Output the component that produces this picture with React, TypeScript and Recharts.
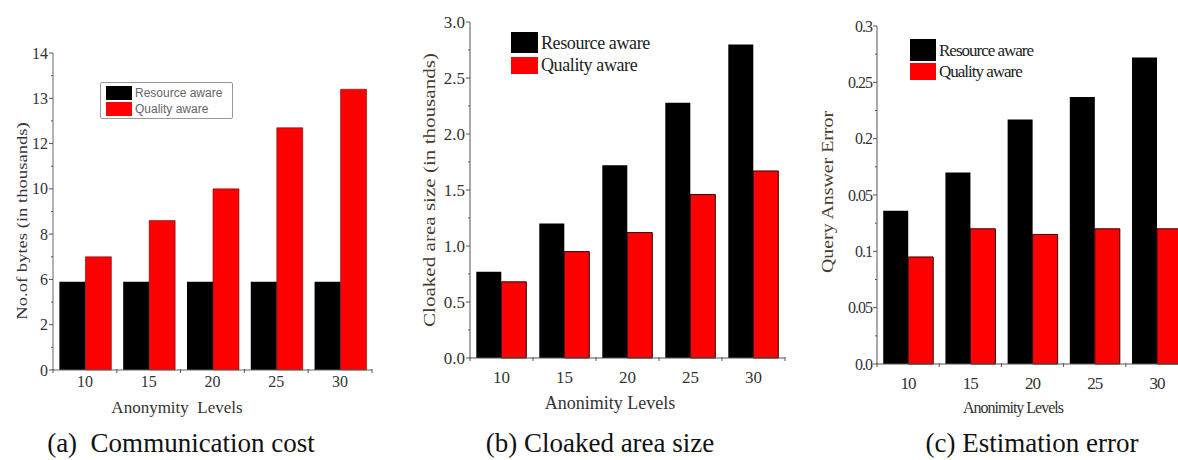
import { BarChart, Bar, XAxis, YAxis, Legend } from "recharts";

// anonymity levels on the x axis
const levels = ["10", "15", "20", "25", "30"];
const seriesOrder = ["resource", "quality"];

// (a) communication cost
const bytesResource = [3.9, 3.9, 3.9, 3.9, 3.9];
const bytesQuality = [5.0, 6.6, 8.0, 10.7, 12.4];
const bytesTicks = [0, 1, 2, 3, 4, 5, 6, 7, 8, 9, 10, 11, 12, 13, 14];
const bytesLabels: Record<number, string> = { 0: "0", 2: "2", 4: "6", 6: "8", 8: "10", 10: "12", 12: "13", 14: "14" };

// (b) cloaked area size
const areaResource = [0.77, 1.2, 1.72, 2.28, 2.8];
const areaQuality = [0.68, 0.95, 1.12, 1.46, 1.67];
const areaTicks = [0, 0.25, 0.5, 0.75, 1, 1.25, 1.5, 1.75, 2, 2.25, 2.5, 2.75, 3];
const areaLabels: Record<number, string> = { 0: "0.0", 0.5: "0.5", 1: "1.0", 1.5: "1.5", 2: "2.0", 2.5: "2.5", 3: "3.0" };

// (c) estimation error
const errResource = [0.136, 0.17, 0.217, 0.237, 0.272];
const errQuality = [0.095, 0.12, 0.115, 0.12, 0.12];
const errTicks = [0, 0.025, 0.05, 0.075, 0.1, 0.125, 0.15, 0.175, 0.2, 0.225, 0.25, 0.275, 0.3];
const errLabels: Record<number, string> = { 0: "0.0", 0.05: "0.05", 0.1: "0.1", 0.15: "0.05", 0.2: "0.2", 0.25: "0.25", 0.3: "0.3" };

const SERIF = "'Liberation Serif', 'DejaVu Serif', serif";

const toRows = (a: number[], b: number[]) =>
  levels.map((level, i) => ({ level, resource: a[i], quality: b[i] }));

const yTick = (labels: Record<number, string>, fontSize: number, extra: any = {}) => (props: any) => {
  const { x, y, payload } = props;
  const label = labels[payload.value];
  const major = label !== undefined;
  return (
    <g>
      <line x1={x - (major ? 4 : 2)} x2={x} y1={y} y2={y} stroke="#555" strokeWidth={1} />
      {major && (
        <text x={x - 5} y={y} dy="0.35em" textAnchor="end" fontSize={fontSize} fill="#333" fontFamily={SERIF} {...extra}>
          {label}
        </text>
      )}
    </g>
  );
};

// label at group centre, small marks at the group boundaries
const xTick = (gap: number, fontSize: number, extra: any = {}) => (props: any) => {
  const { x, y, payload, index } = props;
  const half = payload.offset || 0;
  return (
    <g>
      <line x1={x - half} x2={x - half} y1={y - 1} y2={y + 3} stroke="#555" strokeWidth={1} />
      {index === levels.length - 1 && (
        <line x1={x + half} x2={x + half} y1={y - 1} y2={y + 3} stroke="#555" strokeWidth={1} />
      )}
      <text x={x} y={y + gap} dy="0.71em" textAnchor="middle" fontSize={fontSize} fill="#333" fontFamily={SERIF} {...extra}>
        {payload.value}
      </text>
    </g>
  );
};

type LegendStyle = {
  boxed?: boolean;
  font: string;
  fontSize: number;
  color: string;
  swW: number;
  swH: number[];
  gap: number;
  spacing?: number;
};

const legendContent = (s: LegendStyle) => (props: any) => {
  const items = [...(props.payload || [])].sort(
    (a: any, b: any) => seriesOrder.indexOf(a.dataKey) - seriesOrder.indexOf(b.dataKey),
  );
  return (
    <div
      style={{
        border: s.boxed ? "1.5px solid #999" : "none",
        borderRadius: 2,
        padding: s.boxed ? "3px 10px 2px 5px" : 0,
        background: s.boxed ? "#fff" : "transparent",
      }}
    >
      {items.map((p: any, i: number) => (
        <div key={p.value} style={{ display: "flex", alignItems: "center", marginBottom: i === 0 ? s.gap : 0 }}>
          <div style={{ width: s.swW, height: s.swH[i], background: p.color, marginRight: 3 }} />
          <span style={{ fontFamily: s.font, fontSize: s.fontSize, color: s.color, lineHeight: 1, letterSpacing: s.spacing ?? 0, whiteSpace: "nowrap" }}>
            {p.value}
          </span>
        </div>
      ))}
    </div>
  );
};

// the source image is stretched vertically, so the rotated labels run longer
const rotated = (text: string, cx: number, cy: number, fontSize: number, color: string) => (
  <div
    style={{
      position: "absolute",
      left: cx,
      top: cy,
      transform: "translate(-50%, -50%) rotate(-90deg) scaleX(1.24)",
      whiteSpace: "nowrap",
      fontFamily: SERIF,
      fontSize,
      color,
    }}
  >
    {text}
  </div>
);

const centered = (text: string, cx: number, cy: number, fontSize: number, extra: any = {}) => (
  <div
    style={{
      position: "absolute",
      left: cx,
      top: cy,
      transform: "translate(-50%, -50%)",
      whiteSpace: "nowrap",
      fontFamily: SERIF,
      fontSize,
      color: "#222",
      ...extra,
    }}
  >
    {text}
  </div>
);

const App = () => {
  return (
    <div style={{ position: "relative", width: 1178, height: 460, overflow: "hidden", background: "#fff" }}>
      <style>{`body{margin:0}`}</style>

      {/* (a) */}
      <div style={{ position: "absolute", left: 0, top: 0 }}>
        <BarChart width={400} height={400} data={toRows(bytesResource, bytesQuality)}
          margin={{ top: 53, right: 28, bottom: 0, left: 0 }} barCategoryGap="10%" barGap={0}>
          <XAxis dataKey="level" height={30} tickLine={false} tickSize={0} tickMargin={0} stroke="#666"
            tick={xTick(6, 16)} />
          <YAxis width={53} domain={[0, 14]} ticks={bytesTicks} interval={0} tickSize={0} tickMargin={0}
            stroke="#666" tick={yTick(bytesLabels, 16)} />
          <Legend verticalAlign="middle" align="center" layout="vertical"
            wrapperStyle={{ left: 100, top: 82, width: "auto", height: "auto" }}
            content={legendContent({ boxed: true, font: "'Liberation Sans', Arial, sans-serif", fontSize: 12, color: "#666", swW: 26, swH: [14, 14], gap: 2 })} />
          <Bar dataKey="resource" name="Resource aware" fill="#000" isAnimationActive={false} />
          <Bar dataKey="quality" name="Quality aware" fill="#ff0000" stroke="#400" strokeWidth={0.5} isAnimationActive={false} />
        </BarChart>
      </div>

      {/* (b) */}
      <div style={{ position: "absolute", left: 400, top: 0 }}>
        <BarChart width={400} height={400} data={toRows(areaResource, areaQuality)}
          margin={{ top: 22, right: 15, bottom: 0, left: 0 }} barCategoryGap="10%" barGap={0}>
          <XAxis dataKey="level" height={42} tickLine={false} tickSize={0} tickMargin={0} stroke="#555"
            tick={xTick(13, 17)} />
          <YAxis width={70} domain={[0, 3]} ticks={areaTicks} interval={0} tickSize={0} tickMargin={0}
            stroke="#555" tick={yTick(areaLabels, 17)} />
          <Legend verticalAlign="middle" align="center" layout="vertical"
            wrapperStyle={{ left: 111, top: 32, width: "auto", height: "auto" }}
            content={legendContent({ font: SERIF, fontSize: 18, color: "#222", swW: 27, swH: [21, 17], gap: 3, spacing: -0.4 })} />
          <Bar dataKey="resource" name="Resource aware" fill="#000" isAnimationActive={false} />
          <Bar dataKey="quality" name="Quality aware" fill="#ff0000" stroke="#300" strokeWidth={1} isAnimationActive={false} />
        </BarChart>
      </div>

      {/* (c) */}
      <div style={{ position: "absolute", left: 800, top: 0, width: 378, height: 400, overflow: "hidden" }}>
        <BarChart width={400} height={400} data={toRows(errResource, errQuality)}
          margin={{ top: 26, right: 12, bottom: 0, left: 0 }} barCategoryGap="10%" barGap={0}>
          <XAxis dataKey="level" height={36} tickLine={false} tickSize={0} tickMargin={0} stroke="#555"
            tick={xTick(13, 17, { letterSpacing: -1 })} />
          <YAxis width={77} domain={[0, 0.3]} ticks={errTicks} interval={0} tickSize={0} tickMargin={0}
            stroke="#555" tick={yTick(errLabels, 16, { letterSpacing: -1 })} />
          <Legend verticalAlign="middle" align="center" layout="vertical"
            wrapperStyle={{ left: 110, top: 39, width: "auto", height: "auto" }}
            content={legendContent({ font: SERIF, fontSize: 17, color: "#222", swW: 26, swH: [22, 17], gap: 2, spacing: -1 })} />
          <Bar dataKey="resource" name="Resource aware" fill="#000" isAnimationActive={false} />
          <Bar dataKey="quality" name="Quality aware" fill="#ff0000" stroke="#300" strokeWidth={1} isAnimationActive={false} />
        </BarChart>
      </div>

      {rotated("No.of bytes (in thousands)", 22, 221, 15, "#3a3040")}
      {rotated("Cloaked area size (in thousands)", 430, 190, 17, "#4a3a30")}
      {rotated("Query Answer Error", 828, 192, 16, "#4a3a30")}

      {centered("Anonymity  Levels", 177, 408, 17, { whiteSpace: "pre", color: "#333" })}
      {centered("Anonimity Levels", 610, 403, 18, { color: "#333" })}
      {centered("Anonimity Levels", 1013, 408, 16, { color: "#333", letterSpacing: -1 })}

      {centered("(a)  Communication cost", 181, 443, 27, { whiteSpace: "pre", color: "#111" })}
      {centered("(b) Cloaked area size", 600, 443, 27, { color: "#111" })}
      {centered("(c) Estimation error", 1032, 443, 27, { color: "#111" })}
    </div>
  );
};

export default App;
